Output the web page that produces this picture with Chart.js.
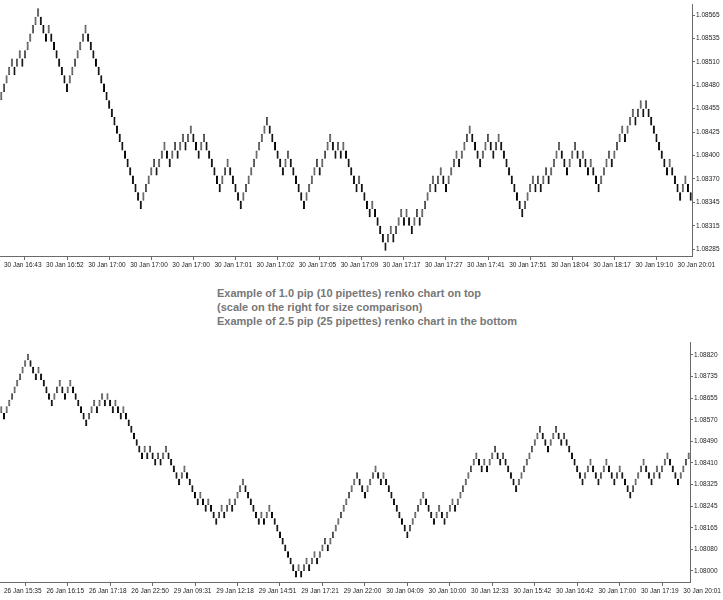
<!DOCTYPE html>
<html>
<head>
<meta charset="utf-8">
<title>Renko 1.0 pip vs 2.5 pip</title>
<script src="https://cdn.jsdelivr.net/npm/chart.js@4.4.1/dist/chart.umd.min.js"></script>
<style>
  html, body { margin: 0; padding: 0; background: #fff; }
  body { width: 723px; height: 600px; position: relative; overflow: hidden; }
  #top { position: absolute; left: 0; top: 0; }
  #bottom { position: absolute; left: 0; top: 338px; }
  .note {
    position: absolute; left: 217px; top: 286px;
    font: bold 11px "Liberation Sans", Arial, sans-serif;
    line-height: 14px; color: #777;
  }
</style>
</head>
<body>
<canvas id="top" width="723" height="275"></canvas>
<div class="note">Example of 1.0 pip (10 pipettes) renko chart on top<br>(scale on the right for size comparison)<br>Example of 2.5 pip (25 pipettes) renko chart in the bottom</div>
<canvas id="bottom" width="723" height="262"></canvas>
<script>
// 1.0 pip chart: brick size, low of the first brick, and runs of bricks (+ up / - down)
const topBrick = 0.0001;
const topFirstLow = 1.08463;
const topRuns = [
  5, -1, 2, -1, 6, -3, 1, -7, 7, -21,
  5, -1, 3, -2, 2, -1, 2, -1, 2, -3, 2, -6, 3, -5, 10, -6, 2, -6, 5, -1, 4, -2, 1, -1,
  1, -5, 1, -4, 1, -5, 2, -1, 3, -1, 1, -2, 2, -1, 5, -1, 2, -2, 4, -1, 4, -4, 3, -2, 2, -9,
  4, -1, 1, -1, 2, -1, 4, -3, 3, -2, 1, -2, 1, -3, 4,
  -1, 4, -1, 3, -1, 2, -1, 1, -8, 1, -4, 2, -2
];
const topTimes = [
  '30 Jan 16:43', '30 Jan 16:52', '30 Jan 17:00', '30 Jan 17:00', '30 Jan 17:00', '30 Jan 17:01',
  '30 Jan 17:02', '30 Jan 17:05', '30 Jan 17:09', '30 Jan 17:17', '30 Jan 17:27', '30 Jan 17:41',
  '30 Jan 17:51', '30 Jan 18:04', '30 Jan 18:17', '30 Jan 19:10', '30 Jan 20:01'
];
const topPrices = ['1.08285', '1.08315', '1.08345', '1.08370', '1.08400', '1.08425',
  '1.08455', '1.08480', '1.08510', '1.08535', '1.08565'];

// 2.5 pip chart
const bottomBrick = 0.00025;
const bottomFirstLow = 1.08600;
const bottomRuns = [
  1, -1, 9, -3, 1, -5, 3, -2, 2, -6,
  3, -1, 2, -1, 1, -2, 1, -2, 1, -7,
  1, -1, 1, -2, 1, -1, 2, -5, 2,
  -5, 1, -2, 1, -3, 2, -1, 2, -1, 4,
  -6, 1, -1, 2, -10, 1, -1, 2, -1, 2, -1, 3, -1, 11, -3, 4, -2, 1, -9, 6, -4, 2, -2, 3, -1, 8,
  -2, 1, -1, 3, -2, 1, -5, 9, -3, 3, -2, 1, -7, 3, -3, 3, -3, 2, -4, 5, -3, 2, -1, 3, -4, 4
];
const bottomTimes = [
  '26 Jan 15:35', '26 Jan 16:15', '26 Jan 17:18', '26 Jan 22:50', '29 Jan 09:31', '29 Jan 12:18',
  '29 Jan 14:51', '29 Jan 17:21', '29 Jan 22:00', '30 Jan 04:09', '30 Jan 10:00', '30 Jan 12:33',
  '30 Jan 15:42', '30 Jan 16:42', '30 Jan 17:00', '30 Jan 17:19', '30 Jan 20:01'
];
const bottomPrices = ['1.08000', '1.08080', '1.08165', '1.08245', '1.08325', '1.08410',
  '1.08490', '1.08570', '1.08655', '1.08735', '1.08820'];

const TICK_EVERY = 16;
const axisColor = '#6a6a6a';
const labelFont = { family: '"Liberation Sans", Arial, sans-serif', size: 6.5 };

function buildBricks(firstLow, size, runs) {
  const bricks = [];
  let low = firstLow - Math.sign(runs[0]) * size;
  runs.forEach(run => {
    const dir = Math.sign(run);
    for (let k = 0; k < Math.abs(run); k++) {
      low += dir * size;
      bricks.push({ x: bricks.length, y: [low, low + size], up: dir > 0 });
    }
  });
  return bricks;
}

function renkoChart(id, bricks, times, prices, opts) {
  const first = +prices[0];
  const step = (+prices[prices.length - 1] - first) / (prices.length - 1);
  return new Chart(document.getElementById(id), {
    type: 'bar',
    data: {
      datasets: [{
        data: bricks,
        backgroundColor: c => c.raw.up ? '#ffffff' : '#000000',
        borderColor: c => c.raw.up ? '#4a4a4a' : '#000000',
        borderWidth: 1,
        borderSkipped: false,
        barPercentage: 0.8,
        categoryPercentage: 1
      }]
    },
    options: {
      responsive: false,
      animation: false,
      layout: { padding: 0 },
      plugins: { legend: { display: false }, tooltip: { enabled: false } },
      scales: {
        x: {
          type: 'linear',
          min: -0.5,
          max: bricks.length - 0.5,
          offset: false,
          afterBuildTicks: s => { s.ticks = times.map((t, i) => ({ value: i * TICK_EVERY + 1 })); },
          afterFit: s => { s.height = opts.xHeight; },
          ticks: {
            autoSkip: false, maxRotation: 0, align: 'start', padding: 1,
            font: labelFont, color: '#222',
            callback: (v, i) => times[i]
          },
          grid: { drawOnChartArea: false, tickLength: 4, tickColor: axisColor },
          border: { color: axisColor }
        },
        y: {
          position: 'right',
          min: opts.yMin,
          max: opts.yMax,
          afterBuildTicks: s => { s.ticks = prices.map((p, i) => ({ value: first + i * step })); },
          afterFit: s => { s.width = opts.yWidth; },
          ticks: {
            autoSkip: false, padding: 1, font: labelFont, color: '#222',
            callback: (v, i) => prices[i]
          },
          grid: { drawOnChartArea: false, tickLength: 3, tickColor: axisColor },
          border: { color: axisColor }
        }
      }
    }
  });
}

renkoChart('top', buildBricks(topFirstLow, topBrick, topRuns), topTimes, topPrices,
  { yMin: 1.082768, yMax: 1.085771, xHeight: 19, yWidth: 31 });
renkoChart('bottom', buildBricks(bottomFirstLow, bottomBrick, bottomRuns), bottomTimes, bottomPrices,
  { yMin: 1.07958, yMax: 1.088658, xHeight: 18, yWidth: 33 });
</script>
</body>
</html>
